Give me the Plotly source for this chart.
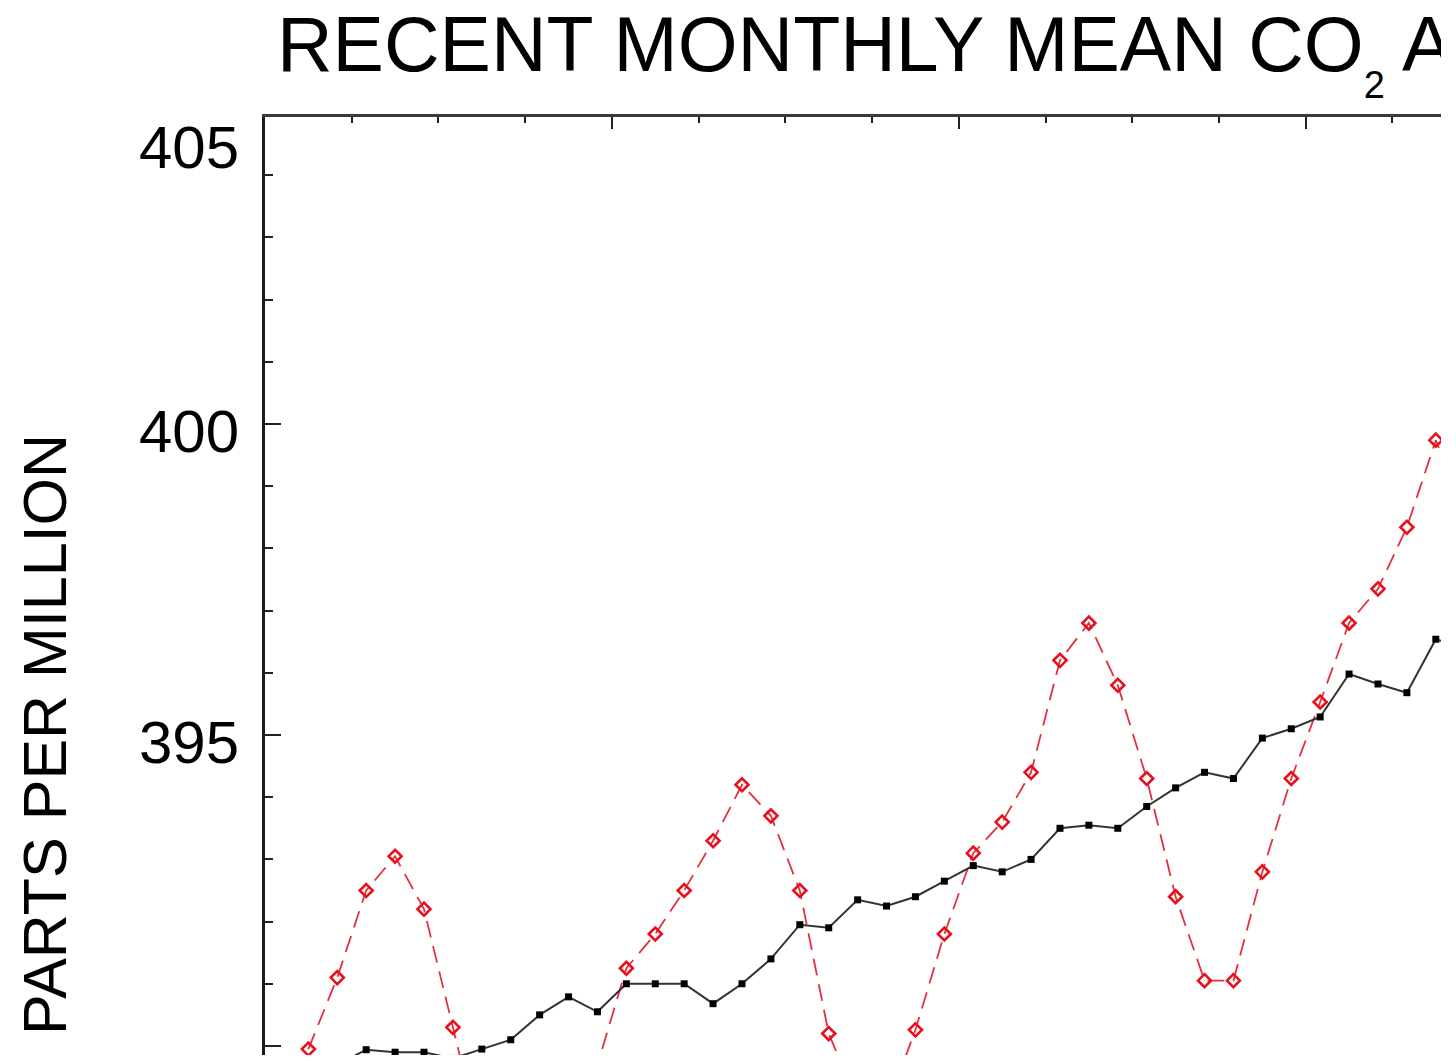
import plotly.graph_objects as go

# Monthly values, Feb 2010 through Jun 2013 (mid-month decimal dates)
years = [2010] * 11 + [2011] * 12 + [2012] * 12 + [2013] * 6
months = list(range(2, 13)) + list(range(1, 13)) * 2 + list(range(1, 7))

# Monthly mean CO2 (ppm)
monthly_mean = [
    389.95, 391.1, 392.5, 393.05, 392.2, 390.3, 388.4, 386.9, 387.2, 388.7, 389.7,
    391.25, 391.8, 392.5, 393.3, 394.2, 393.7, 392.5, 390.2, 389.1, 389.0, 390.26, 391.8,
    393.1, 393.6, 394.4, 396.2, 396.8, 395.8, 394.3, 392.4, 391.05, 391.05, 392.8, 394.3,
    395.53, 396.8, 397.35, 398.34, 399.74, 398.6,
]

# Seasonally corrected values (ppm)
seasonal_corrected = [
    389.55, 389.7, 389.94, 389.9, 389.9, 389.8, 389.95, 390.1, 390.5, 390.79, 390.55,
    391.0, 391.0, 391.0, 390.68, 391.0, 391.4, 391.95, 391.9, 392.35, 392.25, 392.4, 392.65,
    392.9, 392.8, 393.0, 393.5, 393.55, 393.5, 393.85, 394.15, 394.4, 394.3, 394.95, 395.1,
    395.29, 395.98, 395.82, 395.68, 396.54, 396.4,
]

y_ticks = [390, 395, 400]
top_label = "405"

x_dates = [y + (m - 0.5) / 12 for y, m in zip(years, months)]

W, H = 1441, 1055
ML, MT = 265, 117
FONT = "Liberation Sans, Arial, Helvetica, sans-serif"

fig = go.Figure()

fig.add_trace(go.Scatter(
    x=x_dates, y=monthly_mean, mode="lines+markers",
    line=dict(color="#e2303e", width=1.8, dash="17px,9px"),
    marker=dict(symbol="diamond-open", size=10, color="#e8101c", line=dict(width=2.6, color="#e8101c")),
    showlegend=False,
))

fig.add_trace(go.Scatter(
    x=x_dates, y=seasonal_corrected, mode="lines+markers",
    line=dict(color="#333333", width=2),
    marker=dict(symbol="square", size=7, color="#000000"),
    showlegend=False,
))

fig.update_layout(
    template="none",
    width=W, height=H,
    margin=dict(l=ML, r=0, t=MT, b=0, pad=0),
    paper_bgcolor="white", plot_bgcolor="white",
    font=dict(family=FONT, color="#000000"),
    title=dict(
        text="RECENT MONTHLY MEAN CO<sub><sub><span style='font-size:38px'>2</span></sub></sub> AT MAUNA LOA",
        font=dict(size=77, family=FONT, color="#000000"),
        x=277 / W, xref="container", xanchor="left",
        y=1 - 44 / H, yref="container", yanchor="middle",
    ),
    xaxis=dict(
        range=[2010.0, 2013.39], side="top",
        showline=True, linewidth=3, linecolor="#3a3a3a", mirror=False,
        ticks="inside", ticklen=12, tickwidth=2, tickcolor="#222222",
        tick0=2010, dtick=1, showticklabels=False,
        showgrid=False, zeroline=False,
        minor=dict(tick0=2010, dtick=0.25, ticks="inside", ticklen=6, tickwidth=2, tickcolor="#222222", showgrid=False),
    ),
    yaxis=dict(
        range=[389.855, 404.936],
        showline=True, linewidth=3, linecolor="#1a1a1a", mirror=False,
        ticks="inside", ticklen=16, tickwidth=2, tickcolor="#222222",
        tickvals=y_ticks, ticktext=[str(v) for v in y_ticks],
        tickfont=dict(size=60, family=FONT, color="#000000"),
        ticklabelshift=7, ticklabelstandoff=11,
        showgrid=False, zeroline=False,
        minor=dict(tick0=390, dtick=1, ticks="inside", ticklen=8, tickwidth=2, tickcolor="#222222", showgrid=False),
    ),
    annotations=[
        dict(
            text=top_label, xref="paper", yref="paper",
            x=(241 - ML) / (W - ML), y=(H - 147) / (H - MT),
            xanchor="right", yanchor="middle", showarrow=False,
            font=dict(size=60, family=FONT, color="#000000"),
        ),
        dict(
            text="PARTS PER MILLION", xref="paper", yref="paper",
            x=(45 - ML) / (W - ML), y=(H - 735) / (H - MT),
            xanchor="center", yanchor="middle", textangle=-90, showarrow=False,
            font=dict(size=61, family=FONT, color="#000000"),
        ),
    ],
)

fig.write_html("out.html")
